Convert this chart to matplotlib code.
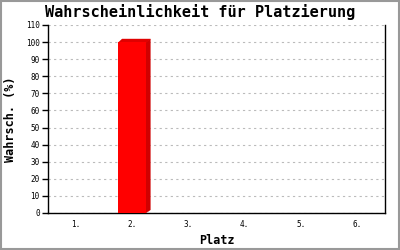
#!/usr/bin/env python3
"""
Wahrscheinlichkeit fuer Platzierung - bar chart
"""

import matplotlib
matplotlib.use('Agg')
import matplotlib.pyplot as plt
from matplotlib.patches import Polygon, Rectangle

# Data
places = ['1.', '2.', '3.', '4.', '5.', '6.']
probability = [0, 100, 0, 0, 0, 0]
y_ticks = list(range(0, 111, 10))

plt.rcParams['font.family'] = ['DejaVu Sans Mono']

fig = plt.figure(figsize=(4, 2.5), dpi=100)
ax = fig.add_axes([0.12, 0.148, 0.843, 0.752])

x = list(range(len(places)))
bar_w = 0.5
ax.bar(x, probability, width=bar_w, color='#ff0000', linewidth=0, zorder=3)

# fake 3D side and top faces
dx, dy = 0.07, 1.8
for xi, v in zip(x, probability):
    if v <= 0:
        continue
    x0 = xi - bar_w / 2
    x1 = xi + bar_w / 2
    side = Polygon([(x1 - 0.01, 0), (x1 + dx, dy), (x1 + dx, v + dy), (x1 - 0.01, v)],
                   closed=True, facecolor='#d00000', edgecolor='#d00000',
                   linewidth=0.3, zorder=2.9)
    top = Polygon([(x0, v - 0.3), (x0 + dx, v + dy), (x1 + dx, v + dy), (x1, v - 0.3)],
                  closed=True, facecolor='#e00000', edgecolor='#e00000',
                  linewidth=0.3, zorder=2.9)
    ax.add_patch(side)
    ax.add_patch(top)

ax.set_xlim(-0.5, len(places) - 0.5)
ax.set_ylim(0, 110)
ax.set_xticks(x)
ax.set_xticklabels(places, fontsize=5.5)
ax.set_yticks(y_ticks)
ax.set_yticklabels([str(t) for t in y_ticks], fontsize=5.5)
ax.tick_params(axis='x', length=0, pad=5)
ax.tick_params(axis='y', length=4, width=1, direction='out', pad=2)

ax.grid(axis='y', color='#bbbbbb', linestyle=(0, (2, 3)), linewidth=0.8, zorder=0)
ax.set_axisbelow(True)

ax.spines['top'].set_visible(False)
for s in ['left', 'bottom', 'right']:
    ax.spines[s].set_linewidth(1)
    ax.spines[s].set_color('black')

fig.suptitle('Wahrscheinlichkeit für Platzierung', x=0.5, y=0.985, fontsize=11,
             fontweight='semibold', va='top')
ax.set_xlabel('Platz', fontsize=8.5, fontweight='bold', labelpad=4)
ax.set_ylabel('Wahrsch. (%)', fontsize=8.5, fontweight='bold', labelpad=6)

# grey frame around figure
fig.patches.append(Rectangle((0.002, 0.003), 0.995, 0.993, transform=fig.transFigure,
                             fill=False, edgecolor='#999999', linewidth=1.5))

fig.savefig('out.png', dpi=100)
